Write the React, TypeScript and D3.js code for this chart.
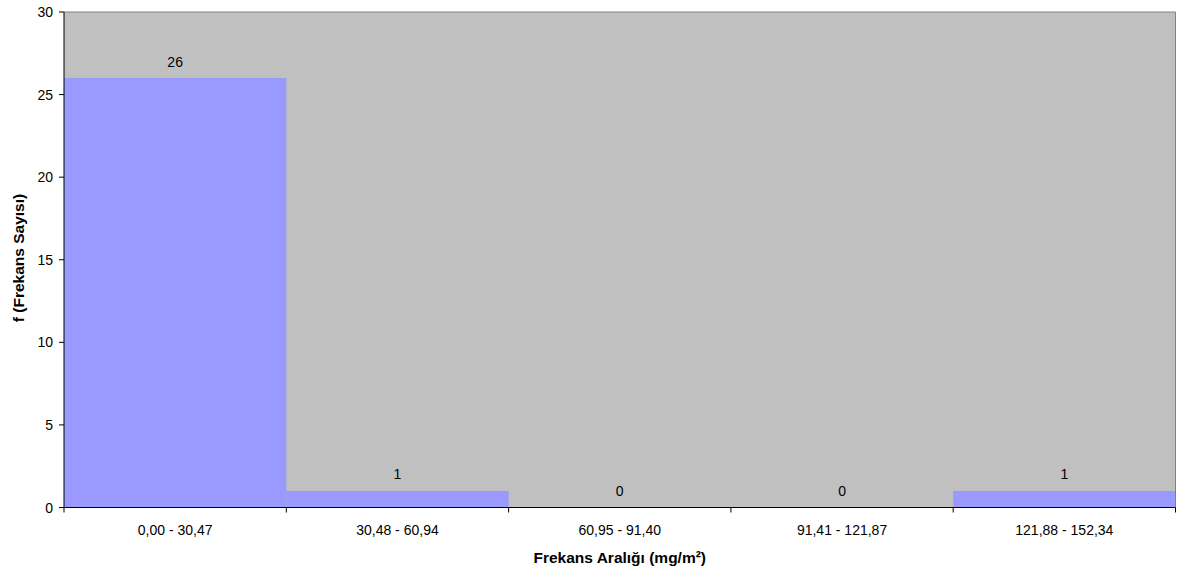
import React from "react";
import * as d3 from "d3";

const categories = ["0,00 - 30,47", "30,48 - 60,94", "60,95 - 91,40", "91,41 - 121,87", "121,88 - 152,34"];
const frequencies = [26, 1, 0, 0, 1];
const yTicks = [0, 5, 10, 15, 20, 25, 30];

const W = 1179, H = 573;
const M = { left: 64, right: 1175.5, top: 12, bottom: 507.5 };
const FONT = "Arial, 'Liberation Sans', sans-serif";

export default function App() {
  const x = d3.scaleBand().domain(categories).range([M.left, M.right]).padding(0);
  const y = d3.scaleLinear().domain([0, 30]).range([M.bottom, M.top]);
  const bw = x.bandwidth();
  return (
    <svg width={W} height={H} style={{ position: "absolute", left: 0, top: 0, fontFamily: FONT }}>
      <rect x={0} y={0} width={W} height={H} fill="#ffffff" />
      <rect x={M.left} y={M.top} width={M.right - M.left} height={M.bottom - M.top} fill="#C0C0C0" />
      {categories.map((c, i) => (
        <rect key={c} x={x(c)!} y={y(frequencies[i])} width={bw} height={M.bottom - y(frequencies[i])} fill="#9999FF" />
      ))}
      <line x1={M.left} x2={M.right} y1={M.top} y2={M.top} stroke="#808080" strokeWidth={1} />
      <line x1={M.right} x2={M.right} y1={M.top} y2={M.bottom} stroke="#808080" strokeWidth={1} />
      <line x1={M.left} x2={M.left} y1={M.top} y2={M.bottom} stroke="#000" strokeWidth={1} />
      <line x1={M.left} x2={M.right} y1={M.bottom} y2={M.bottom} stroke="#000" strokeWidth={1} />
      {yTicks.map((t) => (
        <g key={t}>
          <line x1={M.left - 5} x2={M.left} y1={y(t)} y2={y(t)} stroke="#000" />
          <text x={M.left - 11} y={y(t) + 5} textAnchor="end" fontSize={14} fill="#000">{t}</text>
        </g>
      ))}
      {d3.range(categories.length + 1).map((i) => (
        <line key={i} x1={M.left + i * bw} x2={M.left + i * bw} y1={M.bottom} y2={M.bottom + 5} stroke="#000" />
      ))}
      {categories.map((c, i) => (
        <g key={c}>
          <text x={x(c)! + bw / 2} y={M.bottom + 27} textAnchor="middle" fontSize={14} fill="#000">{c}</text>
          <text x={x(c)! + bw / 2} y={y(frequencies[i]) - 11.5} textAnchor="middle" fontSize={14} fill="#000">{frequencies[i]}</text>
        </g>
      ))}
      <text x={(M.left + M.right) / 2} y={563} textAnchor="middle" fontSize={15.5} fontWeight="bold" fill="#000">Frekans Aralığı (mg/m²)</text>
      <text transform={`translate(24, 258) rotate(-90)`} textAnchor="middle" fontSize={15.5} fontWeight="bold" fill="#000">f (Frekans Sayısı)</text>
    </svg>
  );
}
